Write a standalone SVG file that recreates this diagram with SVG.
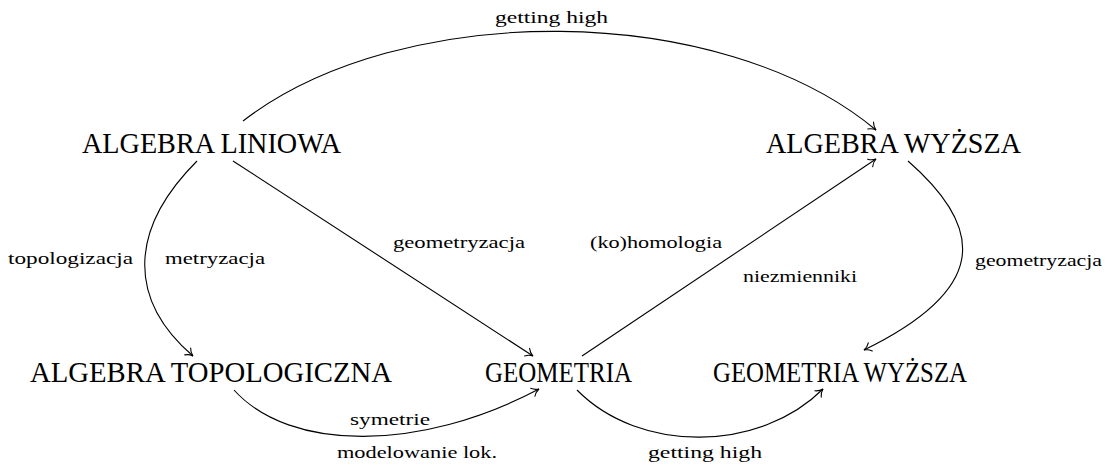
<svg xmlns="http://www.w3.org/2000/svg" width="1109" height="465" viewBox="0 0 1109 465">
<style>
.node{font-family:"Liberation Serif","Times New Roman",serif;font-size:30px;fill:#000}
.lbl{font-family:"Liberation Serif","Times New Roman",serif;font-size:16px;fill:#000}
.edge{fill:none;stroke:#000;stroke-width:1.1;marker-end:url(#to)}
</style>
<defs>
<marker id="to" markerUnits="userSpaceOnUse" orient="auto" markerWidth="12" markerHeight="12" refX="0" refY="0" viewBox="-9 -6 10 12" overflow="visible">
<path d="M -7 -4.5 C -5 -2 -2 -0.5 0 0 C -2 0.5 -5 2 -7 4.5" fill="none" stroke="#000" stroke-width="1.1" stroke-linecap="round"/>
</marker>
</defs>
<rect width="1109" height="465" fill="#fff"/>
<g id="connectors">
<path class="edge" d="M 243 121 C 400 0, 720 0, 876 130"/>
<path class="edge" d="M 197 161 C 128 230, 128 300, 193 356"/>
<path class="edge" d="M 233 161 L 533 356"/>
<path class="edge" d="M 582 356 L 876 159"/>
<path class="edge" d="M 908 161 C 987 230, 987 290, 864 350"/>
<path class="edge" d="M 234 390 C 290 452, 420 452, 539 389"/>
<path class="edge" d="M 577 390 C 640 454, 760 452, 823 389"/>
</g>
<g id="edge-labels">
<text class="lbl" x="495" y="23" textLength="113" lengthAdjust="spacingAndGlyphs">getting high</text>
<text class="lbl" x="8" y="264" textLength="125" lengthAdjust="spacingAndGlyphs">topologizacja</text>
<text class="lbl" x="165" y="264" textLength="100" lengthAdjust="spacingAndGlyphs">metryzacja</text>
<text class="lbl" x="393" y="248" textLength="132" lengthAdjust="spacingAndGlyphs">geometryzacja</text>
<text class="lbl" x="590" y="248" textLength="132" lengthAdjust="spacingAndGlyphs">(ko)homologia</text>
<text class="lbl" x="743" y="282" textLength="114" lengthAdjust="spacingAndGlyphs">niezmienniki</text>
<text class="lbl" x="975" y="266" textLength="127" lengthAdjust="spacingAndGlyphs">geometryzacja</text>
<text class="lbl" x="350" y="425" textLength="80" lengthAdjust="spacingAndGlyphs">symetrie</text>
<text class="lbl" x="337" y="458" textLength="160" lengthAdjust="spacingAndGlyphs">modelowanie lok.</text>
<text class="lbl" x="648" y="458" textLength="114" lengthAdjust="spacingAndGlyphs">getting high</text>
</g>
<g id="algebra-liniowa"><text class="node" x="82" y="153" textLength="259" lengthAdjust="spacingAndGlyphs">ALGEBRA LINIOWA</text></g>
<g id="algebra-wyzsza"><text class="node" x="766" y="153" textLength="255" lengthAdjust="spacingAndGlyphs">ALGEBRA WYŻSZA</text></g>
<g id="algebra-topologiczna"><text class="node" x="30" y="382" textLength="362" lengthAdjust="spacingAndGlyphs">ALGEBRA TOPOLOGICZNA</text></g>
<g id="geometria"><text class="node" x="485" y="382" textLength="147" lengthAdjust="spacingAndGlyphs">GEOMETRIA</text></g>
<g id="geometria-wyzsza"><text class="node" x="713" y="382" textLength="254" lengthAdjust="spacingAndGlyphs">GEOMETRIA WYŻSZA</text></g>
</svg>
